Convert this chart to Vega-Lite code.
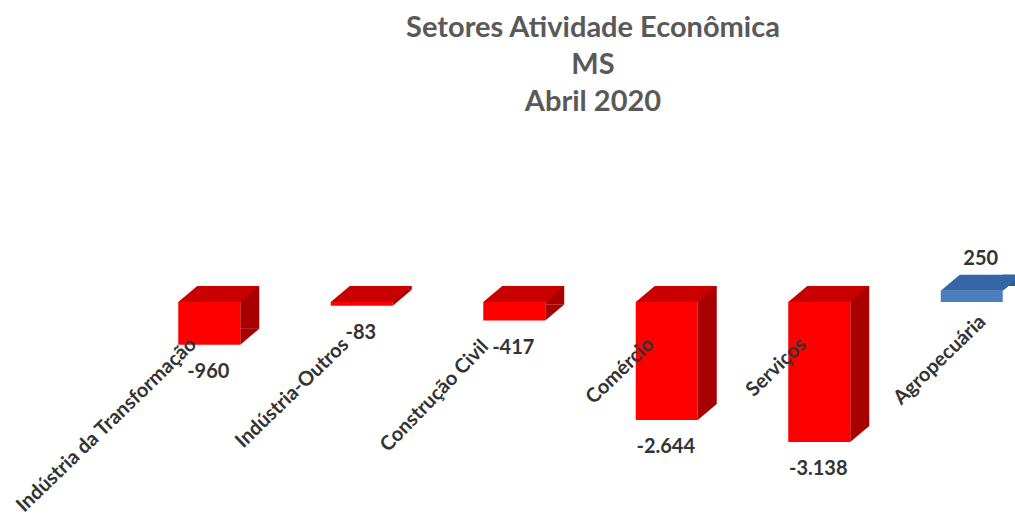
{
"$schema":"https://vega.github.io/schema/vega-lite/v6.json",
"autosize":"none",
"padding":{"left":133,"top":130,"right":0,"bottom":50},
"width":882,"height":340,
"background":"white",
"view":{"stroke":null},
"title":{"text":["Setores Atividade Econômica","MS","Abril 2020"],"font":"Lato","fontSize":29,"fontWeight":"bold","color":"#595959","anchor":"middle","dx":19,"lineHeight":37,"offset":-16,"baseline":"bottom"},
"data":{"values":[
{"setor":"Indústria da Transformação","valor":-960,"rotulo":"-960"},
{"setor":"Indústria-Outros","valor":-83,"rotulo":"-83"},
{"setor":"Construção Civil","valor":-417,"rotulo":"-417"},
{"setor":"Comércio","valor":-2644,"rotulo":"-2.644"},
{"setor":"Serviços","valor":-3138,"rotulo":"-3.138"},
{"setor":"Agropecuária","valor":250,"rotulo":"250"}
]},
"encoding":{
"x":{"field":"setor","type":"nominal","sort":null,"title":null,"scale":{"type":"band","range":[0,915],"padding":0},
"axis":{"domain":false,"ticks":false,"grid":false,"offset":-168,"labelAngle":-44,"labelAlign":"right","labelBaseline":"middle","labelPadding":39,"labelOffset":-16,"labelFont":"Lato","labelFontSize":20,"labelFontWeight":"bold","labelColor":"#333333","labelOverlap":false,"labelLimit":0,"labelBound":false,"labelFlush":false,"zindex":1,"labelExpr":"datum.label == 'Agropecuária' || datum.label == 'Construção Civil' ? '' : datum.label"}}
},
"layer":[
{"mark":{"type":"bar","width":19,"xOffset":40.5,"yOffset":-16,"y2Offset":-16},
 "encoding":{"y":{"field":"valor","type":"quantitative","title":null,"scale":{"domain":[-3767,3857],"nice":false,"zero":true},"axis":null},
 "color":{"condition":{"test":"datum.valor>0","value":"#2b5a94"},"value":"#a80000"}}},
{"mark":{"type":"point","filled":true,"opacity":1,"strokeWidth":0,"size":4,"shape":"M31,0 L50,-16 L31,-16 Z"},
 "encoding":{"y":{"field":"valor","type":"quantitative"},
 "color":{"condition":{"test":"datum.valor>0","value":"#2b5a94"},"value":"#a80000"}}},
{"mark":{"type":"bar","width":62},
 "encoding":{"y":{"field":"valor","type":"quantitative"},
 "color":{"condition":{"test":"datum.valor>0","value":"#4a7ebf"},"value":"#ff0000"}}},
{"transform":[{"filter":"datum.valor<0"}],
 "mark":{"type":"point","filled":true,"opacity":1,"strokeWidth":0,"size":4,"shape":"M-31,0 L-12,-16 L50,-16 L31,0 Z","color":"#c80000"},
 "encoding":{"y":{"datum":0,"type":"quantitative"}}},
{"transform":[{"filter":"datum.valor>0"}],
 "mark":{"type":"point","filled":true,"opacity":1,"strokeWidth":0,"size":4,"shape":"M-31,0 L-12,-16 L50,-16 L31,0 Z","color":"#3566a8"},
 "encoding":{"y":{"field":"valor","type":"quantitative"}}},
{"transform":[{"filter":"datum.valor<0"}],
 "mark":{"type":"text","font":"Lato","fontSize":20,"fontWeight":"bold","color":"#333333","yOffset":27,"xOffset":-1,"baseline":"middle"},
 "encoding":{"y":{"field":"valor","type":"quantitative"},"text":{"field":"rotulo"}}},
{"transform":[{"filter":"datum.valor>0"}],
 "mark":{"type":"text","font":"Lato","fontSize":20,"fontWeight":"bold","color":"#333333","yOffset":-32,"xOffset":9,"baseline":"middle"},
 "encoding":{"y":{"field":"valor","type":"quantitative"},"text":{"field":"rotulo"}}},
{"transform":[{"filter":"datum.valor>0"}],
 "mark":{"type":"text","font":"Lato","fontSize":20,"fontWeight":"bold","color":"#333333","angle":316,"align":"right","baseline":"middle","xOffset":11,"yOffset":28},
 "encoding":{"y":{"field":"valor","type":"quantitative"},"text":{"field":"setor"}}},
{"transform":[{"filter":"datum.setor == 'Construção Civil'"}],
 "mark":{"type":"text","font":"Lato","fontSize":20,"fontWeight":"bold","color":"#333333","angle":314,"align":"right","baseline":"middle","xOffset":-29,"yOffset":23},
 "encoding":{"y":{"field":"valor","type":"quantitative"},"text":{"field":"setor"}}}
]
}
